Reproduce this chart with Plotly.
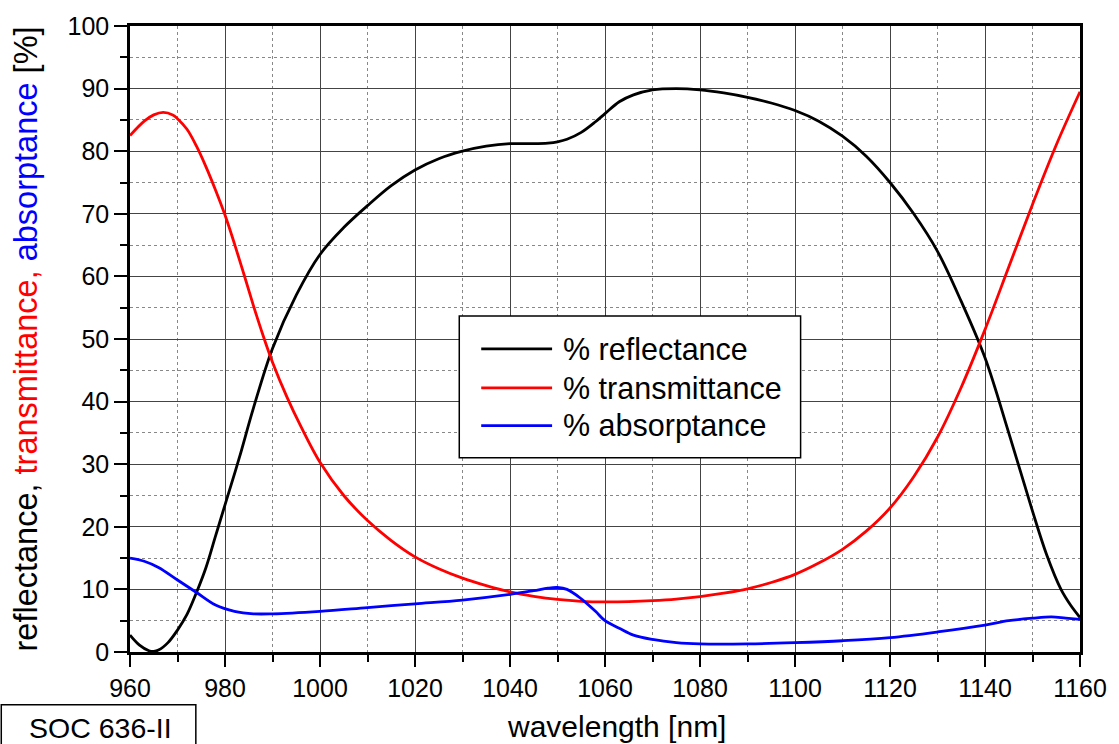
import plotly.graph_objects as go

# ---- data ----
refl_x = [960, 962, 964, 965, 966, 968, 970, 972, 974, 976, 978, 980, 983, 986, 990, 995,
          1000, 1005, 1010, 1015, 1020, 1025, 1030, 1035, 1040, 1045, 1048, 1050, 1052, 1055,
          1058, 1060, 1063, 1066, 1070, 1075, 1080, 1085, 1090, 1095, 1100, 1105, 1110, 1115,
          1120, 1125, 1130, 1135, 1140, 1145, 1150, 1153, 1156, 1158, 1160]
refl_y = [2.7, 1.1, 0.2, 0.1, 0.3, 1.5, 3.5, 6.0, 9.5, 13.5, 18.5, 23.5, 31, 39, 48.5, 57,
          63.5, 67.8, 71.3, 74.5, 77, 78.8, 80, 80.8, 81.2, 81.2, 81.3, 81.5, 81.9, 83.0,
          84.7, 86.0, 87.9, 89.0, 89.8, 90.0, 89.8, 89.3, 88.6, 87.7, 86.5, 84.8, 82.4, 79.2,
          75, 70, 64, 56, 47, 35, 22.5, 15.5, 10, 7.5, 5.5]

trans_x = [960, 963, 965, 967, 969, 970, 972, 974, 976, 978, 980, 982, 984, 986, 988, 990,
           993, 996, 1000, 1005, 1010, 1015, 1020, 1025, 1030, 1035, 1040, 1045, 1050, 1055,
           1060, 1065, 1070, 1075, 1080, 1085, 1090, 1095, 1100, 1105, 1110, 1115, 1120,
           1125, 1130, 1135, 1140, 1145, 1150, 1155, 1160]
trans_y = [82.5, 84.8, 85.8, 86.2, 85.8, 85.2, 83.5, 80.8, 77.5, 73.8, 69.8, 65.2, 60.3, 55.3,
           50.6, 46.3, 40.8, 36, 30.3, 25, 21, 17.8, 15.2, 13.3, 11.8, 10.6, 9.6, 8.9, 8.4,
           8.1, 8.0, 8.05, 8.2, 8.45, 8.85, 9.4, 10.1, 11.1, 12.4, 14.2, 16.4, 19.3, 23,
           28, 34.3, 42.3, 51.5, 61.5, 71.5, 81, 89.5]

abs_x = [960, 963, 966, 970, 974, 978, 982, 986, 990, 1000, 1010, 1020, 1030, 1040, 1045,
         1048, 1050, 1052, 1055, 1058, 1060, 1063, 1066, 1070, 1075, 1080, 1090, 1100, 1110,
         1120, 1130, 1140, 1145, 1150, 1154, 1157, 1160]
abs_y = [15, 14.5, 13.5, 11.5, 9.5, 7.5, 6.5, 6.1, 6.1, 6.5, 7.1, 7.7, 8.3, 9.2, 9.8,
         10.2, 10.3, 10.0, 8.5, 6.5, 5.0, 3.8, 2.7, 2.0, 1.5, 1.3, 1.3, 1.5, 1.8,
         2.3, 3.2, 4.3, 5.0, 5.4, 5.6, 5.4, 5.2]

x_ticks = [960, 980, 1000, 1020, 1040, 1060, 1080, 1100, 1120, 1140, 1160]
y_ticks = [0, 10, 20, 30, 40, 50, 60, 70, 80, 90, 100]

series = [
    ("% reflectance", refl_x, refl_y, "black"),
    ("% transmittance", trans_x, trans_y, "#ff0000"),
    ("% absorptance", abs_x, abs_y, "#0000ff"),
]

FONT = "Liberation Sans, Arial, sans-serif"

fig = go.Figure()
for name, xs, ys, col in series:
    fig.add_trace(go.Scatter(x=xs, y=ys, mode="lines", name=name,
                             line=dict(color=col, width=2.8, shape="spline", smoothing=1.0),
                             showlegend=False))

fig.update_layout(
    width=1119, height=744,
    margin=dict(l=130, r=37, t=24, b=92),
    paper_bgcolor="white", plot_bgcolor="white",
    font=dict(family=FONT, color="black"),
)

fig.update_xaxes(
    range=[960, 1160], tickvals=x_ticks, ticktext=[str(v) for v in x_ticks],
    showline=True, linecolor="black", linewidth=2.5, mirror=True,
    ticks="outside", ticklen=12, tickwidth=2.2, tickcolor="black",
    tickfont=dict(size=25, family=FONT),
    showgrid=True, gridcolor="#444444", gridwidth=1,
    zeroline=False,
    minor=dict(dtick=10, tick0=960, showgrid=True, gridcolor="#888888", griddash="dot",
               gridwidth=1, ticks="outside", ticklen=7, tickwidth=2.2, tickcolor="black"),
)
fig.update_yaxes(
    range=[0, 100], tickvals=y_ticks, ticktext=[str(v) for v in y_ticks],
    showline=True, linecolor="black", linewidth=2.5, mirror=True,
    ticks="outside", ticklen=13, tickwidth=2.2, tickcolor="black",
    tickfont=dict(size=25, family=FONT),
    showgrid=True, gridcolor="#444444", gridwidth=1,
    zeroline=False,
    minor=dict(dtick=5, tick0=0, showgrid=True, gridcolor="#888888", griddash="dot",
               gridwidth=1, ticks="outside", ticklen=7, tickwidth=2.2, tickcolor="black"),
)

# custom legend (box, sample lines, labels)
fig.add_shape(type="rect", xref="paper", yref="paper", x0=0.3466, x1=0.7059, y0=0.3105, y1=0.5366,
              line=dict(color="black", width=1.5), fillcolor="white", layer="above")
rows_y = [0.4841, 0.4220, 0.3615]
for (name, _, _, col), ry in zip(series, rows_y):
    fig.add_shape(type="line", xref="paper", yref="paper", x0=0.3697, x1=0.4443, y0=ry, y1=ry,
                  line=dict(color=col, width=2.8), layer="above")
    fig.add_annotation(x=0.4538, y=ry, xref="paper", yref="paper", text=name, showarrow=False,
                       xanchor="left", yanchor="middle", font=dict(size=30.5, family=FONT, color="black"))

# axis titles
fig.add_annotation(x=-0.110, y=0.5, xref="paper", yref="paper", textangle=-90, showarrow=False,
                   xanchor="center", yanchor="middle",
                   text="reflectance, <span style='color:#ff0000'>transmittance, </span>"
                        "<span style='color:#0000ff'>absorptance</span> [%]",
                   font=dict(size=32.5, family=FONT, color="black"))
fig.add_annotation(x=0.5116, y=-0.119, xref="paper", yref="paper", showarrow=False,
                   xanchor="center", yanchor="middle", text="wavelength [nm]",
                   font=dict(size=30, family=FONT, color="black"))

# product label box
fig.add_shape(type="rect", xref="paper", yref="paper", x0=-0.1355, x1=0.0693, y0=-0.0844, y1=-0.19,
              line=dict(color="black", width=1.5), fillcolor="white")
fig.add_annotation(x=-0.0315, y=-0.121, xref="paper", yref="paper", showarrow=False,
                   xanchor="center", yanchor="middle", text="SOC 636-II",
                   font=dict(size=28.5, family=FONT, color="black"))

fig.write_html("out.html", config={"displayModeBar": False},
               post_script="document.body.style.margin='0px';")
